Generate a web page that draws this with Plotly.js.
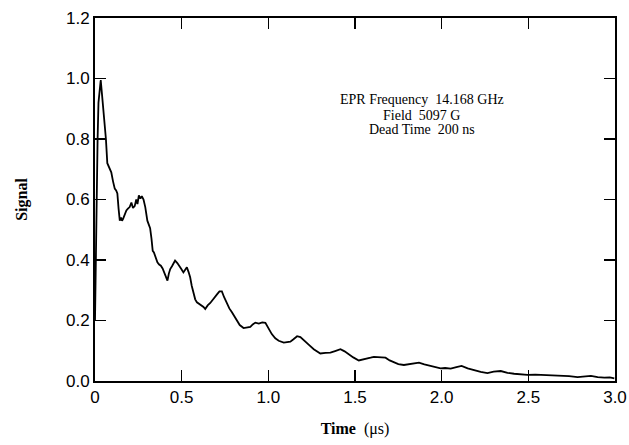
<!DOCTYPE html>
<html>
<head>
<meta charset="utf-8">
<script src="https://cdn.plot.ly/plotly-3.0.1.min.js"></script>
<style>html,body{margin:0;padding:0;background:#fff;}#chart{width:629px;height:445px;}</style>
</head>
<body>
<div id="chart"></div>
<script>
var timeUs = [0.000,0.005,0.010,0.015,0.020,0.027,0.033,0.040,0.048,0.056,0.063,0.071,0.080,0.088,0.094,0.104,0.114,0.122,0.129,0.136,0.143,0.150,0.156,0.162,0.170,0.181,0.190,0.200,0.210,0.219,0.229,0.238,0.245,0.253,0.262,0.270,0.280,0.290,0.302,0.310,0.318,0.326,0.333,0.340,0.347,0.353,0.360,0.370,0.380,0.390,0.399,0.408,0.418,0.426,0.434,0.445,0.455,0.462,0.475,0.487,0.498,0.510,0.520,0.530,0.540,0.549,0.558,0.568,0.578,0.588,0.600,0.617,0.626,0.636,0.650,0.665,0.680,0.694,0.705,0.718,0.732,0.745,0.761,0.775,0.790,0.805,0.819,0.835,0.857,0.875,0.896,0.910,0.925,0.945,0.965,0.983,1.002,1.020,1.040,1.060,1.089,1.110,1.127,1.145,1.166,1.185,1.204,1.220,1.239,1.262,1.280,1.300,1.330,1.358,1.385,1.416,1.440,1.464,1.490,1.522,1.545,1.570,1.590,1.609,1.640,1.676,1.700,1.724,1.750,1.782,1.810,1.840,1.869,1.900,1.936,1.965,1.994,2.020,2.052,2.085,2.115,2.150,2.187,2.225,2.264,2.300,2.341,2.380,2.418,2.455,2.495,2.540,2.591,2.640,2.688,2.735,2.784,2.825,2.861,2.900,2.938,2.970,2.996];
var signal = [0.20,0.45,0.75,0.80,0.92,0.97,0.995,0.95,0.90,0.84,0.80,0.72,0.71,0.70,0.69,0.66,0.636,0.63,0.62,0.57,0.53,0.54,0.53,0.536,0.55,0.564,0.57,0.575,0.59,0.572,0.578,0.60,0.585,0.614,0.603,0.611,0.60,0.575,0.53,0.52,0.505,0.47,0.43,0.425,0.415,0.40,0.392,0.385,0.381,0.372,0.36,0.345,0.332,0.355,0.37,0.38,0.39,0.398,0.39,0.381,0.37,0.359,0.37,0.376,0.36,0.343,0.315,0.288,0.27,0.26,0.255,0.249,0.245,0.238,0.25,0.258,0.268,0.276,0.287,0.296,0.296,0.277,0.256,0.24,0.227,0.212,0.199,0.185,0.175,0.178,0.179,0.187,0.193,0.19,0.194,0.192,0.171,0.155,0.141,0.133,0.127,0.128,0.13,0.138,0.148,0.145,0.136,0.128,0.117,0.105,0.097,0.091,0.093,0.094,0.099,0.105,0.098,0.088,0.078,0.068,0.071,0.072,0.077,0.08,0.078,0.077,0.068,0.061,0.056,0.053,0.056,0.06,0.061,0.055,0.05,0.045,0.042,0.043,0.041,0.046,0.05,0.042,0.035,0.03,0.026,0.031,0.033,0.027,0.024,0.022,0.02,0.021,0.02,0.02,0.019,0.016,0.013,0.016,0.017,0.013,0.011,0.012,0.009];
var xTickVals = [0, 0.5, 1.0, 1.5, 2.0, 2.5, 3.0];
var xTickText = ['0', '0.5', '1.0', '1.5', '2.0', '2.5', '3.0'];
var yTickVals = [0, 0.2, 0.4, 0.6, 0.8, 1.0, 1.2];
var yTickText = ['0.0', '0.2', '0.4', '0.6', '0.8', '1.0', '1.2'];
var infoLines = ['EPR Frequency&nbsp;&nbsp;14.168 GHz', 'Field&nbsp;&nbsp;5097 G', 'Dead Time&nbsp;&nbsp;200 ns'];
var infoY = [0.929, 0.879, 0.830];

var trace = {
  x: timeUs, y: signal, type: 'scatter', mode: 'lines',
  line: {color: '#000', width: 1.8}, hoverinfo: 'skip'
};
var axisCommon = {
  showgrid: false, zeroline: false, showline: true, linecolor: '#000', linewidth: 2,
  mirror: 'ticks', ticks: 'inside', ticklen: 11, tickwidth: 1.5, tickcolor: '#000',
  tickfont: {family: 'Liberation Sans, Arial, sans-serif', size: 17, color: '#000'}
};
var annotations = infoLines.map(function (t, i) {
  return {
    x: 1.884, y: infoY[i], xref: 'x', yref: 'y', showarrow: false,
    text: t, align: 'center', xanchor: 'center', yanchor: 'middle',
    font: {family: 'Liberation Serif, Times New Roman, serif', size: 14, color: '#000'}
  };
});
var layout = {
  width: 629, height: 445,
  margin: {l: 95, r: 14, t: 18, b: 64},
  paper_bgcolor: '#fff', plot_bgcolor: '#fff', showlegend: false,
  xaxis: Object.assign({}, axisCommon, {
    range: [0, 3.0], tickmode: 'array', tickvals: xTickVals, ticktext: xTickText,
    title: {text: '<b>Time</b>&nbsp;&nbsp;(μs)', font: {family: 'Liberation Serif, Times New Roman, serif', size: 16, color: '#000'}, standoff: 16}
  }),
  yaxis: Object.assign({}, axisCommon, {
    range: [0, 1.2], tickmode: 'array', tickvals: yTickVals, ticktext: yTickText,
    title: {text: '<b>Signal</b>', font: {family: 'Liberation Serif, Times New Roman, serif', size: 16, color: '#000'}, standoff: 34}
  }),
  annotations: annotations
};
Plotly.newPlot('chart', [trace], layout, {displayModeBar: false, staticPlot: true});
</script>
</body>
</html>
